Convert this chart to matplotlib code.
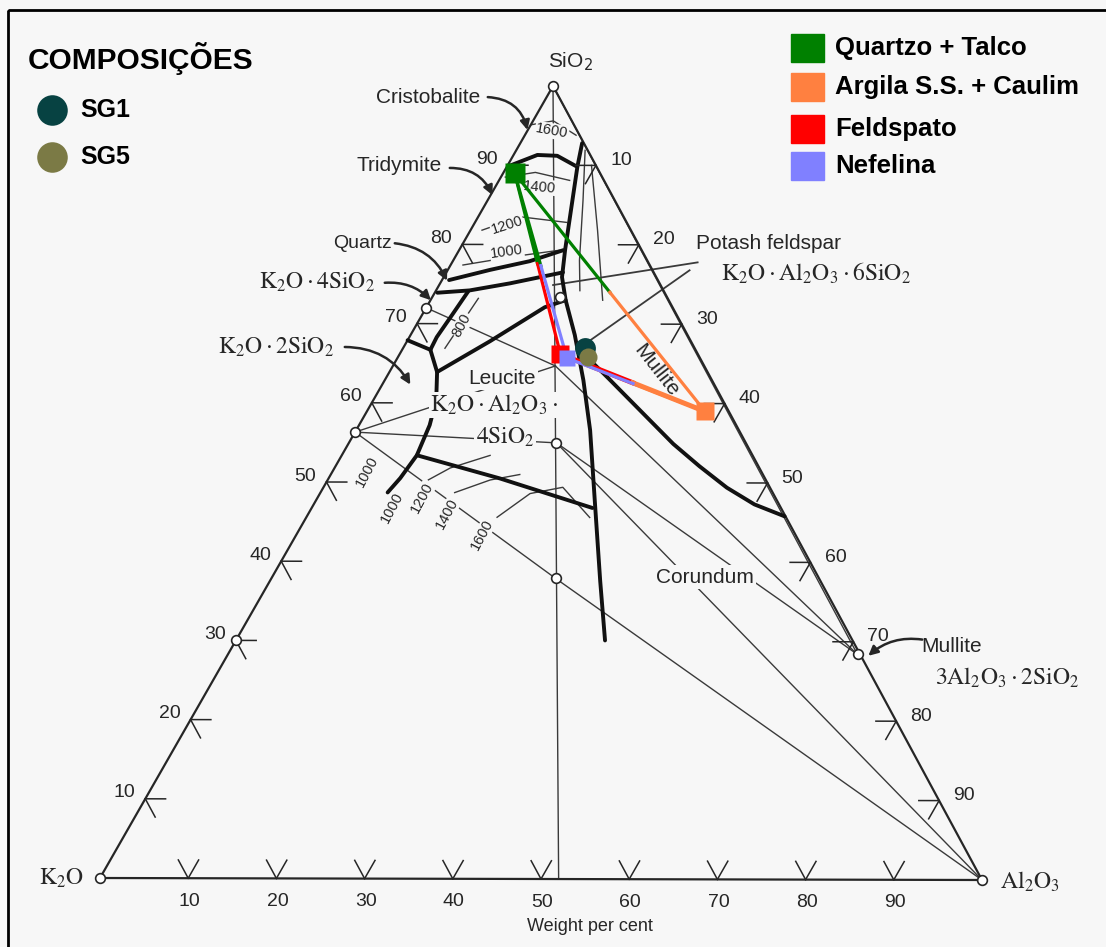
import matplotlib
matplotlib.use("Agg")
import matplotlib.pyplot as plt
import numpy as np
from matplotlib.patches import Rectangle

# corners of the triangle in the figure (pixel space)
K2O_PT = (100, 878)
AL_PT = (982, 880)
SI_PT = (553, 86)
BG = '#f7f7f7'
INK = '#262626'

# ---- data (wt% SiO2, wt% Al2O3) ----
tick_values = [10, 20, 30, 40, 50, 60, 70, 80, 90]

compound_names = ['SiO2', 'K2O', 'Al2O3', 'K2O.4SiO2', 'K2O.2SiO2', 'K2O.SiO2',
                  'X', 'Leucite', 'Kalsilite', 'Mullite']
compound_si = [100, 0, 0, 72.0, 56.3, 30.1, 73.4, 55.0, 37.9, 28.4]
compound_al = [0, 0, 100, 0, 0, 0, 14.5, 23.5, 32.2, 71.3]

feldspar = (64.7, 18.4)
join_foot = (0, 52.0)

tie_lines = [('K2O.2SiO2', 'Leucite'), ('K2O.2SiO2', 'Feldspar'),
             ('K2O.2SiO2', 'Kalsilite'), ('K2O.4SiO2', 'Feldspar'),
             ('Leucite', 'Mullite'), ('Leucite', 'Al2O3'),
             ('Kalsilite', 'Al2O3'), ('Feldspar', 'Mullite'),
             ('SiO2', 'Mullite'), ('SiO2', 'Join')]

# thick boundary curves
b_silica_mullite = [(92.8, 7.0), (89.8, 8.0), (83.5, 10.4), (79.3, 12.0), (75.9, 13.4),
                    (73.0, 15.3), (68.6, 18.6), (62.9, 22.5), (56.6, 26.5), (47.7, 31.6),
                    (37.6, 37.4), (30.1, 41.8)]
b_cristobalite = [(89.9, 0.2), (91.3, 2.7), (91.2, 5.0), (89.9, 7.8)]
b_mullite = [(65.2, 22.3), (63.3, 25.0), (59.1, 30.9), (54.9, 36.8), (52.1, 41.2),
             (49.4, 45.7), (47.3, 49.9), (45.8, 54.1)]
b_quartz_top = [(75.5, 0.8), (76.8, 4.8), (77.9, 8.7), (79.3, 11.8)]
b_quartz_low = [(73.9, 0.3), (74.2, 3.8), (75.1, 7.9), (76.5, 13.2)]
b_k4s_fsp = [(74.1, 3.7), (71.1, 3.4), (68.3, 3.1), (66.7, 3.2)]
b_k4s_k2s = [(67.9, 0), (66.7, 3.2)]
b_k2s_arc = [(66.7, 3.2), (63.9, 5.4), (60.4, 7.1), (57.2, 8.0), (53.4, 8.5),
             (50.5, 8.1), (48.7, 7.6)]
b_fsp_leu = [(63.9, 5.4), (67.8, 9.4), (72.1, 13.4), (73.0, 15.3)]
b_leu_kal = [(53.4, 8.5), (50.5, 19.4), (46.8, 31.8)]
boundaries = [b_silica_mullite, b_cristobalite, b_mullite, b_quartz_top, b_quartz_low,
              b_k4s_fsp, b_k4s_k2s, b_k2s_arc, b_fsp_leu, b_leu_kal]

# thin isotherms
iso_1600_top = [(95.1, 0), (95.6, 2.3), (93.8, 5.8)]
iso_1400_top = [(88.5, 0.5), (89.1, 3.6), (88.1, 8.0)]
iso_1200_top = [(81.8, 1.3), (83.5, 4.75), (82.8, 10.4)]
iso_1000_top = [(77.4, 1.4), (78.5, 6.7), (79.3, 11.4)]
iso_m1 = [(91.9, 7.8), (85.6, 10.8), (78.0, 14.3), (74.2, 16.3)]
iso_m2 = [(90.0, 9.5), (81.8, 14.4), (73.0, 19.5)]
iso_800 = [(73.2, 5.3), (66.9, 4.75)]
iso_leu_a = [(50.3, 11.4), (51.8, 13.1), (52.8, 15.4), (53.4, 16.8)]
iso_leu_b = [(48.7, 15.2), (50.3, 18.4), (51.0, 21.4)]
iso_leu_c = [(45.6, 21.6), (48.6, 23.8), (49.4, 27.1), (45.6, 32.1)]
isotherms = [iso_1600_top, iso_1400_top, iso_1200_top, iso_1000_top, iso_m1, iso_m2,
             iso_800, iso_leu_a, iso_leu_b, iso_leu_c]

# raw materials and samples
raw_names = ['Quartzo + Talco', 'Argila S.S. + Caulim', 'Feldspato', 'Nefelina']
raw_si = [89.0, 59.0, 66.2, 65.7]
raw_al = [1.3, 38.3, 18.2, 19.2]
raw_colors = ['#008000', '#ff8040', '#ff0000', '#8080ff']
raw_pairs = [(0, 1), (0, 2), (0, 3), (2, 1), (3, 1)]

sample_names = ['SG1', 'SG5']
sample_si = [67.0, 65.8]
sample_al = [20.6, 21.5]
sample_colors = ['#074242', '#7b7a45']


def tern(si, al):
    s = np.asarray(si, float) / 100.0
    a = np.asarray(al, float) / 100.0
    x = K2O_PT[0] + a * (AL_PT[0] - K2O_PT[0]) + s * (SI_PT[0] - K2O_PT[0])
    y = K2O_PT[1] + a * (AL_PT[1] - K2O_PT[1]) + s * (SI_PT[1] - K2O_PT[1])
    return x, y


def curve(pts):
    si, al = zip(*pts)
    return tern(si, al)


fig = plt.figure(figsize=(11.06, 9.47), dpi=100, facecolor=BG)
ax = fig.add_axes([0, 0, 1, 1])
ax.set_xlim(0, 1106)
ax.set_ylim(947, 0)
ax.axis('off')
ax.set_facecolor(BG)

# frame of the scanned page
ax.add_patch(Rectangle((8, 10), 1110, 960, fill=False, lw=2, ec='black'))

comp = {n: (s, a) for n, s, a in zip(compound_names, compound_si, compound_al)}
comp['Feldspar'] = feldspar
comp['Join'] = join_foot

# triangle
tx, ty = tern([0, 0, 100, 0], [0, 100, 0, 0])
ax.plot(tx, ty, color=INK, lw=1.6, zorder=3)

# tie lines
for p, q in tie_lines:
    x, y = tern([comp[p][0], comp[q][0]], [comp[p][1], comp[q][1]])
    ax.plot(x, y, color='#3a3a3a', lw=1.0, zorder=2)

for c in isotherms:
    x, y = curve(c)
    ax.plot(x, y, color='#3a3a3a', lw=1.0, zorder=2)

for c in boundaries:
    x, y = curve(c)
    ax.plot(x, y, color='#111111', lw=2.8, solid_capstyle='round',
            solid_joinstyle='round', zorder=3)

# edge ticks
L = 2.3
for v in tick_values:
    # left edge (SiO2)
    for arm in [(v, L), (v - L, L)]:
        x, y = tern([v, arm[0]], [0, arm[1]])
        ax.plot(x, y, color=INK, lw=1.1, zorder=3)
    px, py = tern(v, 0)
    ax.text(px - 21, py - 6, str(v), ha='center', va='center', fontsize=14,
            color=INK, family='Liberation Sans')
    # right edge
    for arm in [(100 - v, v - L), (100 - v - L, v)]:
        x, y = tern([100 - v, arm[0]], [v, arm[1]])
        ax.plot(x, y, color=INK, lw=1.1, zorder=3)
    px, py = tern(100 - v, v)
    ax.text(px + 25, py - 5, str(v), ha='center', va='center', fontsize=14,
            color=INK, family='Liberation Sans')
    # bottom edge
    for arm in [(L, v), (L, v - L)]:
        x, y = tern([0, arm[0]], [v, arm[1]])
        ax.plot(x, y, color=INK, lw=1.1, zorder=3)
    px, py = tern(0, v)
    ax.text(px + 1, py + 23, str(v), ha='center', va='center', fontsize=14,
            color=INK, family='Liberation Sans')

# compound circles
shown = ['SiO2', 'K2O', 'Al2O3', 'K2O.4SiO2', 'K2O.2SiO2', 'K2O.SiO2', 'X',
         'Leucite', 'Kalsilite', 'Mullite']
for n in shown:
    x, y = tern(*comp[n])
    ax.plot(x, y, 'o', ms=7, mfc='white', mec=INK, mew=1.2, zorder=5)

# labels in the diagram
sans_labels = [('Cristobalite', 428, 97, 15), ('Tridymite', 399, 165, 15),
               ('Quartz', 362, 243, 14), ('Potash feldspar', 768, 243, 15),
               ('Leucite', 502, 378, 15), ('Corundum', 705, 577, 15),
               ('Mullite', 952, 646, 15), ('Weight per cent', 590, 926, 13)]
for t, x, y, fs in sans_labels:
    ax.text(x, y, t, ha='center', va='center', fontsize=fs, color=INK,
            family='Liberation Sans', zorder=4,
            bbox=dict(boxstyle='square,pad=0.1', fc=BG, ec='none'))

ax.text(570, 62, r'SiO$_2$', ha='center', va='center', fontsize=15, color=INK,
        family='Liberation Sans')

formula_labels = [(r'$\mathrm{K_2O\cdot 4SiO_2}$', 317, 282),
                  (r'$\mathrm{K_2O\cdot 2SiO_2}$', 276, 347),
                  (r'$\mathrm{K_2O\cdot Al_2O_3\cdot 6SiO_2}$', 816, 273),
                  (r'$\mathrm{K_2O\cdot Al_2O_3\cdot}$', 494, 405),
                  (r'$\mathrm{4SiO_2}$', 505, 437),
                  (r'$\mathrm{3Al_2O_3\cdot 2SiO_2}$', 1007, 678),
                  (r'$\mathrm{K_2O}$', 62, 878),
                  (r'$\mathrm{Al_2O_3}$', 1030, 882)]
for t, x, y in formula_labels:
    ax.text(x, y, t, ha='center', va='center', fontsize=17, color=INK,
            math_fontfamily='stix', zorder=4,
            bbox=dict(boxstyle='square,pad=0.05', fc=BG, ec='none'))

iso_labels = [('1600', 552, 131, -10), ('1400', 540, 187, -5), ('1200', 507, 225, 18),
              ('1000', 507, 252, 8), ('800', 462, 325, 62), ('1000', 367, 472, 62),
              ('1000', 392, 508, 62), ('1200', 422, 498, 62), ('1400', 447, 514, 62),
              ('1600', 482, 535, 62)]
for t, x, y, r in iso_labels:
    ax.text(x, y, t, ha='center', va='center', fontsize=10.5, color=INK, rotation=r,
            family='Liberation Sans', zorder=4,
            bbox=dict(boxstyle='square,pad=0.05', fc=BG, ec='none'))

# "Mullite" field label
ax.text(656, 371, 'Mullite', ha='center', va='center', fontsize=15, color=INK,
        rotation=-52, family='Liberation Sans', zorder=4)

# leader arrows
leaders = [((485, 97), (94.1, 0.2), -0.4), ((447, 168), (85.9, 0.5), -0.35),
           ((392, 243), (75.1, 0.9), -0.3), ((382, 283), (72.7, 0.4), -0.25),
           ((342, 347), (62.0, 3.5), -0.3), ((925, 640), (28.0, 72.5), 0.25)]
for start, tgt, rad in leaders:
    ax.annotate('', xy=tern(*tgt), xytext=start,
                arrowprops=dict(arrowstyle='-|>', color=INK, lw=1.8,
                                mutation_scale=14,
                                connectionstyle='arc3,rad=%s' % rad), zorder=4)

# potash feldspar leader lines
for p, q in [((77.8, 27.8), (74.9, 12.9)), ((76.8, 27.4), (67.3, 20.2))]:
    x, y = tern([p[0], q[0]], [p[1], q[1]])
    ax.plot(x, y, color='#3a3a3a', lw=1.3, zorder=2)

# ---- coloured overlay ----
for i, j in raw_pairs:
    mx = (raw_si[i] + raw_si[j]) / 2
    ma = (raw_al[i] + raw_al[j]) / 2
    lw = 3.6 if (i, j) == (2, 1) else 2.3
    x, y = tern([raw_si[i], mx], [raw_al[i], ma])
    ax.plot(x, y, color=raw_colors[i], lw=lw, zorder=6)
    x, y = tern([mx, raw_si[j]], [ma, raw_al[j]])
    ax.plot(x, y, color=raw_colors[j], lw=lw, zorder=6)

raw_ms = [14, 13, 13, 12]
for k in [0, 1, 2, 3]:
    x, y = tern(raw_si[k], raw_al[k])
    ax.plot(x, y, 's', ms=raw_ms[k], color=raw_colors[k], mec='none', zorder=7)

for k, ms in zip(range(2), [15, 13]):
    x, y = tern(sample_si[k], sample_al[k])
    ax.plot(x, y, 'o', ms=ms, color=sample_colors[k], mec='none', zorder=8)

# legend: samples
ax.text(28, 58, 'COMPOSIÇÕES', ha='left', va='center', fontsize=21.5,
        fontweight='bold', family='Liberation Sans', color='black')
for k, yy in zip(range(2), [110, 157]):
    ax.plot(52, yy, 'o', ms=22, color=sample_colors[k], mec='none')
    ax.text(80, yy, sample_names[k], ha='left', va='center', fontsize=18,
            fontweight='bold', family='Liberation Sans', color='black')

# legend: raw materials
for k, yy in zip(range(4), [48, 87, 129, 166]):
    ax.add_patch(Rectangle((791, yy - 14), 33, 28, color=raw_colors[k], zorder=5))
    ax.text(835, yy, raw_names[k], ha='left', va='center', fontsize=18.5,
            fontweight='bold', family='Liberation Sans', color='black')

fig.savefig('out.png', dpi=100, facecolor=BG)
